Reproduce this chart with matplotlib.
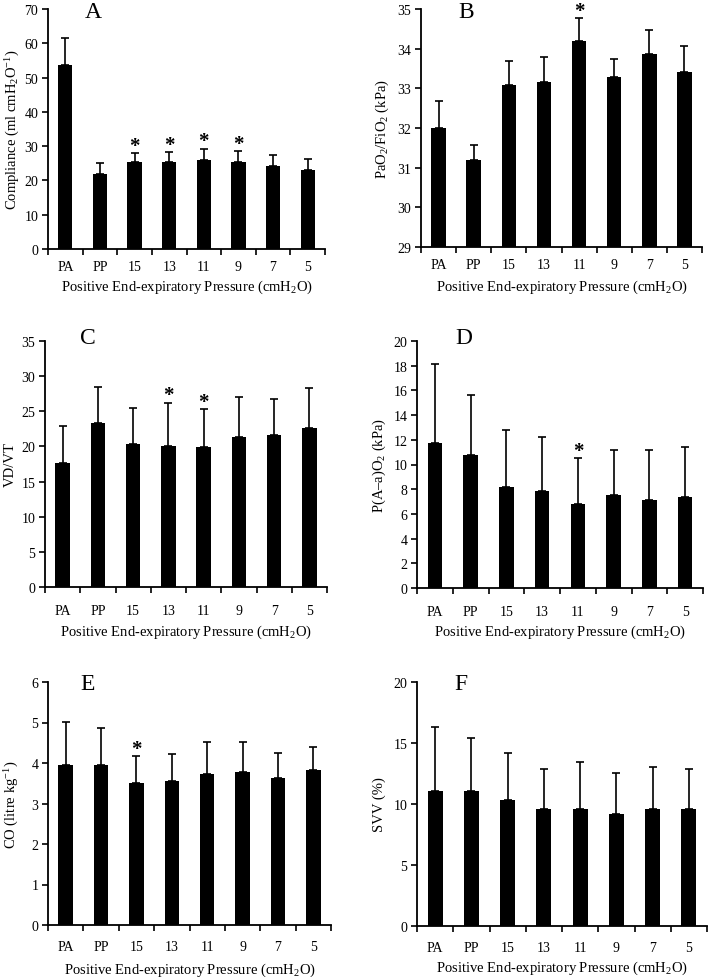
# PEEP titration figure: six bar panels (mean + SD) with significance stars
import numpy as np
import matplotlib.pyplot as plt

plt.rcParams['font.family'] = 'Liberation Serif'
plt.rcParams['mathtext.fontset'] = 'custom'
plt.rcParams['mathtext.rm'] = 'Liberation Serif'
plt.rcParams['mathtext.it'] = 'Liberation Serif:italic'

categories = ['PA', 'PP', '15', '13', '11', '9', '7', '5']

compliance_mean = [53.7, 21.9, 25.4, 25.3, 26.0, 25.3, 24.1, 23.0]
compliance_sd = [7.9, 3.1, 2.6, 3.1, 3.3, 3.2, 3.3, 3.3]
compliance_sig = [2, 3, 4, 5]

pf_mean = [32.0, 31.2, 33.09, 33.17, 34.19, 33.29, 33.87, 33.4]
pf_sd = [0.69, 0.38, 0.59, 0.63, 0.58, 0.46, 0.61, 0.67]
pf_sig = [4]

vdvt_mean = [17.6, 23.3, 20.3, 20.0, 19.9, 21.4, 21.6, 22.6]
vdvt_sd = [5.3, 5.2, 5.2, 6.25, 5.45, 5.7, 5.1, 5.7]
vdvt_sig = [3, 4]

aado2_mean = [11.77, 10.8, 8.18, 7.85, 6.77, 7.56, 7.16, 7.35]
aado2_sd = [6.39, 4.86, 4.59, 4.35, 3.76, 3.61, 4.01, 4.05]
aado2_sig = [4]

co_mean = [3.95, 3.95, 3.50, 3.55, 3.73, 3.78, 3.64, 3.82]
co_sd = [1.06, 0.91, 0.68, 0.67, 0.78, 0.73, 0.60, 0.58]
co_sig = [2]

svv_mean = [11.1, 11.1, 10.33, 9.59, 9.59, 9.18, 9.59, 9.59]
svv_sd = [5.25, 4.3, 3.83, 3.29, 3.89, 3.4, 3.41, 3.29]
svv_sig = []

W, H = 709, 978
fig = plt.figure(figsize=(W / 100, H / 100), dpi=100)


def panel(box, mean, sd, sig, ylim, yticks, ylabel, letter, letter_xy,
          ylab_x, tick_pad, xlab_y):
    l, r, t, b = box
    ax = fig.add_axes([l / W, 1 - b / H, (r - l) / W, (b - t) / H])
    x = np.arange(len(categories))
    ax.bar(x, mean, width=0.41, color='black', zorder=2)
    ax.errorbar(x, mean, yerr=[np.zeros(len(sd)), sd], fmt='none',
                ecolor='black', elinewidth=1.2, capsize=3.2, capthick=1.2,
                zorder=1)
    # significance stars just above the SD cap
    for i in sig:
        ax.annotate('*', (x[i], mean[i] + sd[i]), xytext=(0, 1.5),
                    textcoords='offset points', ha='center', va='baseline',
                    fontsize=15, fontweight='bold')
    ax.set_xlim(-0.5, len(categories) - 0.5)
    ax.set_ylim(*ylim)
    ax.set_yticks(yticks)
    ax.set_xticks(np.arange(len(categories) + 1) - 0.5)
    ax.set_xticklabels([])
    ax.set_xticks(x, minor=True)
    ax.set_xticklabels(categories, minor=True)
    ax.tick_params(axis='x', which='minor', length=0, pad=tick_pad,
                   labelsize=10)
    ax.tick_params(axis='x', which='major', direction='out', length=4,
                   width=1.2)
    ax.tick_params(axis='y', direction='out', length=4, width=1.2,
                   labelsize=10, pad=3)
    for s in ['top', 'right']:
        ax.spines[s].set_visible(False)
    for s in ['left', 'bottom']:
        ax.spines[s].set_linewidth(1.3)
    fig.text(ylab_x / W, 1 - (t + b) / 2 / H, ylabel, rotation=90,
             ha='center', va='center', fontsize=10.5)
    fig.text((l + r) / 2 / W, 1 - xlab_y / H,
             'Positive End-expiratory Pressure (cmH$_2$O)',
             ha='center', va='center', fontsize=10.5)
    fig.text(letter_xy[0] / W, 1 - letter_xy[1] / H, letter,
             ha='center', va='center', fontsize=17)
    return ax


panel((48, 325, 10, 250), compliance_mean, compliance_sd, compliance_sig,
      (0, 70), range(0, 71, 10), 'Compliance (ml cmH$_2$O$^{-1}$)', 'A',
      (93, 13), 13, 8, 287)
panel((421, 702, 10, 248), pf_mean, pf_sd, pf_sig,
      (29, 35), range(29, 36), 'PaO$_2$/FiO$_2$ (kPa)', 'B',
      (466, 13), 382, 8, 287)
panel((45, 327, 342, 588), vdvt_mean, vdvt_sd, vdvt_sig,
      (0, 35), range(0, 36, 5), 'VD/VT', 'C',
      (88, 338), 10, 12.5, 632)
panel((417, 703, 342, 589), aado2_mean, aado2_sd, aado2_sig,
      (0, 20), range(0, 21, 2), 'P(A\u2013a)O$_2$ (kPa)', 'D',
      (464, 338), 379, 12.5, 632)
panel((48, 331, 683, 926), co_mean, co_sd, co_sig,
      (0, 6), range(0, 7), 'CO (litre kg$^{-1}$)', 'E',
      (88, 685), 12, 10.5, 970)
panel((417, 707, 683, 927), svv_mean, svv_sd, svv_sig,
      (0, 20), range(0, 21, 5), 'SVV (%)', 'F',
      (461, 685), 379, 10.5, 968)

fig.savefig('out.png', dpi=100)
